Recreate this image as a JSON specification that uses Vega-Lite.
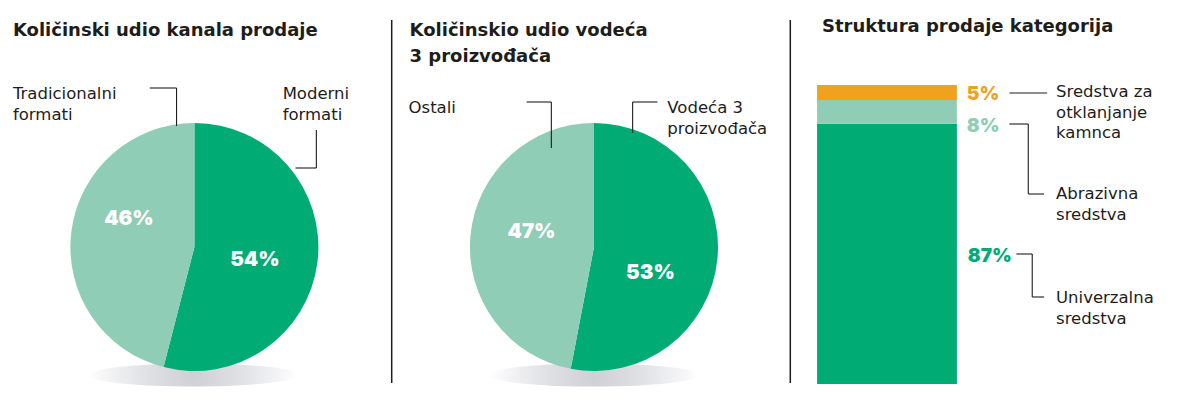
{
  "$schema": "https://vega.github.io/schema/vega-lite/v6.json",
  "width": 1182,
  "height": 401,
  "autosize": {"type": "fit", "contains": "padding"},
  "padding": 0,
  "background": "white",
  "config": {"view": {"stroke": null}, "font": "DejaVu Sans"},
  "datasets": {
    "kanali": [
      {"kategorija": "Moderni formati", "udio": 54},
      {"kategorija": "Tradicionalni formati", "udio": 46}
    ],
    "proizvodjaci": [
      {"kategorija": "Vodeća 3 proizvođača", "udio": 53},
      {"kategorija": "Ostali", "udio": 47}
    ],
    "struktura": [
      {"kategorija": "Univerzalna sredstva", "udio": 87},
      {"kategorija": "Abrazivna sredstva", "udio": 8},
      {"kategorija": "Sredstva za otklanjanje kamnca", "udio": 5}
    ],
    "sjene": [
      {"pita": "kanali", "x": 190, "y": 375},
      {"pita": "proizvodjaci", "x": 594, "y": 375}
    ],
    "razdjelnici": [
      {"x": 390, "y": 20, "y2": 383},
      {"x": 792, "y": 20, "y2": 383}
    ],
    "linije": [
      {"x": 146, "y": 88, "x2": 173, "y2": 88},
      {"x": 173, "y": 88, "x2": 173, "y2": 126},
      {"x": 314, "y": 130, "x2": 314, "y2": 168},
      {"x": 293, "y": 168, "x2": 314, "y2": 168},
      {"x": 526, "y": 102, "x2": 551, "y2": 102},
      {"x": 551, "y": 102, "x2": 551, "y2": 148},
      {"x": 633, "y": 102, "x2": 658, "y2": 102},
      {"x": 633, "y": 102, "x2": 633, "y2": 133},
      {"x": 1013, "y": 93, "x2": 1051, "y2": 93},
      {"x": 1013, "y": 124, "x2": 1032, "y2": 124},
      {"x": 1032, "y": 124, "x2": 1032, "y2": 194},
      {"x": 1032, "y": 194, "x2": 1048, "y2": 194},
      {"x": 1020, "y": 254, "x2": 1036, "y2": 254},
      {"x": 1036, "y": 254, "x2": 1036, "y2": 297},
      {"x": 1036, "y": 297, "x2": 1048, "y2": 297}
    ],
    "naslovi": [
      {"tekst": "Količinski udio kanala prodaje", "x": 8, "y": 36},
      {"tekst": "Količinskio udio vodeća\n3 proizvođača", "x": 408, "y": 36},
      {"tekst": "Struktura prodaje kategorija", "x": 824, "y": 32}
    ],
    "oznake": [
      {"tekst": "Tradicionalni\nformati", "x": 8, "y": 99},
      {"tekst": "Moderni\nformati", "x": 280, "y": 99},
      {"tekst": "Ostali", "x": 407, "y": 113},
      {"tekst": "Vodeća 3\nproizvođača", "x": 668, "y": 113},
      {"tekst": "Sredstva za\notklanjanje\nkamnca", "x": 1060, "y": 97},
      {"tekst": "Abrazivna\nsredstva", "x": 1060, "y": 199},
      {"tekst": "Univerzalna\nsredstva", "x": 1060, "y": 303}
    ],
    "postoci_pite": [
      {"tekst": "54%", "x": 252, "y": 266},
      {"tekst": "46%", "x": 125, "y": 225},
      {"tekst": "53%", "x": 651, "y": 279},
      {"tekst": "47%", "x": 531, "y": 238}
    ],
    "postoci_stupca": [
      {"tekst": "5%", "kategorija": "Sredstva za otklanjanje kamnca", "x": 970, "y": 100},
      {"tekst": "8%", "kategorija": "Abrazivna sredstva", "x": 970, "y": 132},
      {"tekst": "87%", "kategorija": "Univerzalna sredstva", "x": 971, "y": 262}
    ]
  },
  "resolve": {"scale": {"y": "independent"}},
  "layer": [
    {
      "encoding": {
        "x": {"type": "quantitative", "scale": {"domain": [0, 1182], "nice": false, "zero": false}, "axis": null},
        "y": {"type": "quantitative", "scale": {"domain": [0, 401], "reverse": true, "nice": false, "zero": false}, "axis": null}
      },
      "layer": [
        {
          "data": {"name": "sjene"},
          "mark": {
            "type": "point",
            "shape": "M-1,0A1,0.11,0,1,0,1,0A1,0.11,0,1,0,-1,0Z",
            "size": 44100,
            "filled": true,
            "opacity": 1,
            "strokeWidth": 0,
            "fill": {"gradient": "radial", "stops": [{"offset": 0, "color": "#cfd0d6"}, {"offset": 0.45, "color": "#e0e1e5"}, {"offset": 0.8, "color": "#f3f3f5"}, {"offset": 1, "color": "#ffffff"}]}
          },
          "encoding": {
            "x": {"field": "x", "type": "quantitative"},
            "y": {"field": "y", "type": "quantitative"}
          }
        },
        {
          "data": {"name": "kanali"},
          "mark": {"type": "arc", "outerRadius": 124},
          "encoding": {
            "x": {"datum": 191, "type": "quantitative"},
            "y": {"datum": 247, "type": "quantitative"},
            "theta": {"field": "udio", "type": "quantitative", "stack": true},
            "order": {"field": "udio", "sort": "descending"},
            "color": {
              "field": "kategorija", "type": "nominal", "legend": null,
              "scale": {
                "domain": ["Moderni formati", "Tradicionalni formati", "Vodeća 3 proizvođača", "Ostali", "Univerzalna sredstva", "Abrazivna sredstva", "Sredstva za otklanjanje kamnca"],
                "range": ["#00ab74", "#8fcdb6", "#00ab74", "#8fcdb6", "#00ab74", "#8fcdb6", "#f0a11f"]
              }
            }
          }
        },
        {
          "data": {"name": "proizvodjaci"},
          "mark": {"type": "arc", "outerRadius": 124},
          "encoding": {
            "x": {"datum": 594, "type": "quantitative"},
            "y": {"datum": 247, "type": "quantitative"},
            "theta": {"field": "udio", "type": "quantitative", "stack": true},
            "order": {"field": "udio", "sort": "descending"},
            "color": {"field": "kategorija", "type": "nominal", "legend": null}
          }
        },
        {
          "data": {"name": "razdjelnici"},
          "mark": {"type": "rule", "color": "#1e1e1e", "strokeWidth": 1.5},
          "encoding": {
            "x": {"field": "x", "type": "quantitative"},
            "y": {"field": "y", "type": "quantitative"},
            "y2": {"field": "y2"}
          }
        },
        {
          "data": {"name": "linije"},
          "mark": {"type": "rule", "color": "#1e1e1e", "strokeWidth": 1.1},
          "encoding": {
            "x": {"field": "x", "type": "quantitative"},
            "y": {"field": "y", "type": "quantitative"},
            "x2": {"field": "x2"},
            "y2": {"field": "y2"}
          }
        },
        {
          "data": {"name": "naslovi"},
          "mark": {"type": "text", "align": "left", "baseline": "alphabetic", "font": "DejaVu Sans", "fontSize": 18, "fontWeight": "bold", "lineHeight": 26, "lineBreak": "\n", "color": "#1d1d1b"},
          "encoding": {
            "x": {"field": "x", "type": "quantitative"},
            "y": {"field": "y", "type": "quantitative"},
            "text": {"field": "tekst"}
          }
        },
        {
          "data": {"name": "oznake"},
          "mark": {"type": "text", "align": "left", "baseline": "alphabetic", "font": "DejaVu Sans", "fontSize": 16.5, "fontWeight": "normal", "lineHeight": 20.5, "lineBreak": "\n", "color": "#1d1d1b"},
          "encoding": {
            "x": {"field": "x", "type": "quantitative"},
            "y": {"field": "y", "type": "quantitative"},
            "text": {"field": "tekst"}
          }
        },
        {
          "data": {"name": "postoci_pite"},
          "mark": {"type": "text", "align": "center", "baseline": "alphabetic", "font": "Inter", "fontSize": 20.5, "fontWeight": 900, "color": "#ffffff"},
          "encoding": {
            "x": {"field": "x", "type": "quantitative"},
            "y": {"field": "y", "type": "quantitative"},
            "text": {"field": "tekst"}
          }
        },
        {
          "data": {"name": "postoci_stupca"},
          "mark": {"type": "text", "align": "left", "baseline": "alphabetic", "font": "Inter", "fontSize": 19, "fontWeight": 900},
          "encoding": {
            "x": {"field": "x", "type": "quantitative"},
            "y": {"field": "y", "type": "quantitative"},
            "text": {"field": "tekst"},
            "color": {"field": "kategorija", "type": "nominal", "legend": null}
          }
        }
      ]
    },
    {
      "data": {"name": "struktura"},
      "mark": {"type": "bar", "orient": "vertical"},
      "encoding": {
        "x": {"datum": 819, "type": "quantitative", "scale": {"domain": [0, 1182], "nice": false, "zero": false}, "axis": null},
        "x2": {"datum": 960},
        "y": {"field": "udio", "type": "quantitative", "stack": "zero", "scale": {"domain": [-5.686, 128.428], "nice": false, "zero": false}, "axis": null},
        "order": {"field": "udio", "sort": "descending"},
        "color": {"field": "kategorija", "type": "nominal", "legend": null}
      }
    }
  ]
}
